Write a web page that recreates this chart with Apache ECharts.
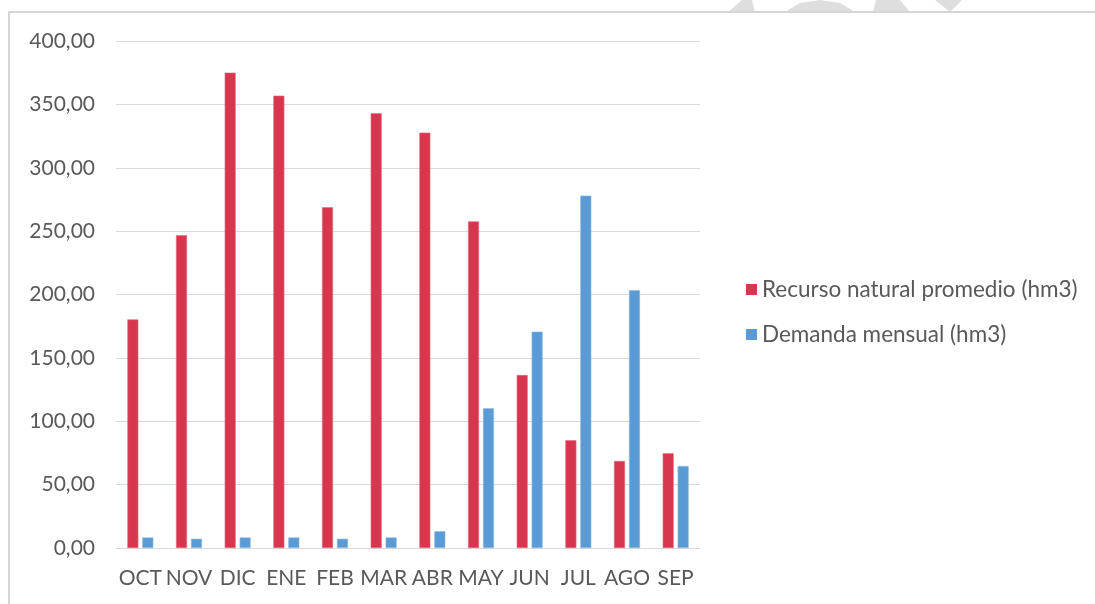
<!DOCTYPE html>
<html>
<head>
<meta charset="utf-8">
<script src="https://cdn.jsdelivr.net/npm/echarts@6/dist/echarts.min.js"></script>
<style>
  html, body { margin: 0; padding: 0; background: #ffffff; }
  #chart { width: 1095px; height: 604px; }
</style>
</head>
<body>
<div id="chart"></div>
<script>
// Meses del año hidrológico
const months = ['OCT', 'NOV', 'DIC', 'ENE', 'FEB', 'MAR', 'ABR', 'MAY', 'JUN', 'JUL', 'AGO', 'SEP'];
// Recurso natural promedio (hm3)
const recurso = [180.4, 246.7, 375.0, 356.9, 268.8, 343.0, 327.7, 257.7, 136.5, 85.0, 68.6, 74.7];
// Demanda mensual (hm3)
const demanda = [8.3, 7.3, 8.3, 8.3, 7.3, 8.3, 13.2, 110.2, 170.7, 278.0, 203.3, 64.7];
const seriesNames = ['Recurso natural promedio (hm3)', 'Demanda mensual (hm3)'];

const FONT = 'Lato, "Open Sans", sans-serif';
const TEXT = '#595959';
const GRID = '#d9d9d9';

const chart = echarts.init(document.getElementById('chart'), null, { renderer: 'canvas' });

chart.setOption({
  animation: false,
  backgroundColor: '#ffffff',
  textStyle: { fontFamily: FONT },
  graphic: [
    // trazos de la marca de agua sobre el marco
    { type: 'polygon', shape: { points: [[728, 12], [742, 0], [752, 0], [755, 12]] }, style: { fill: '#dedede' }, silent: true },
    { type: 'polygon', shape: { points: [[785, 12], [800, 3], [820, 0], [840, 3], [855, 12]] }, style: { fill: '#dedede' }, silent: true },
    { type: 'polygon', shape: { points: [[873, 12], [876, 0], [900, 0], [910, 12]] }, style: { fill: '#dedede' }, silent: true },
    { type: 'polygon', shape: { points: [[935, 0], [962, 0], [950, 12]] }, style: { fill: '#dedede' }, silent: true },
    // marco de la hoja
    { type: 'line', shape: { x1: 8, y1: 12, x2: 1095, y2: 12 }, style: { stroke: '#d6d6d6', lineWidth: 2 }, silent: true },
    { type: 'line', shape: { x1: 9, y1: 12, x2: 9, y2: 604 }, style: { stroke: '#d6d6d6', lineWidth: 2 }, silent: true }
  ],
  legend: {
    orient: 'vertical',
    left: 741,
    top: 273,
    itemWidth: 11,
    itemHeight: 11,
    itemGap: 22,
    icon: 'rect',
    data: seriesNames,
    itemStyle: { borderWidth: 0 },
    textStyle: { color: TEXT, fontSize: 22.5, fontFamily: FONT, padding: [0, 0, 0, 0] }
  },
  grid: { left: 116, right: 395, top: 41, bottom: 56, containLabel: false },
  xAxis: {
    type: 'category',
    data: months,
    axisLine: { show: true, lineStyle: { color: GRID, width: 1 } },
    axisTick: { show: false },
    axisLabel: { color: TEXT, fontSize: 21, fontFamily: FONT, margin: 20, interval: 0 }
  },
  yAxis: {
    type: 'value',
    min: 0,
    max: 400,
    interval: 50,
    axisLine: { show: false },
    axisTick: { show: false },
    splitLine: { lineStyle: { color: GRID, width: 1 } },
    axisLabel: {
      color: TEXT, fontSize: 21, fontFamily: FONT, margin: 21,
      formatter: v => v.toFixed(2).replace('.', ',')
    }
  },
  series: [
    {
      name: seriesNames[0],
      type: 'bar',
      data: recurso,
      barWidth: 11,
      barGap: '36%',
      itemStyle: { color: '#d6374f', borderColor: '#e26a7c', borderWidth: 0.6 }
    },
    {
      name: seriesNames[1],
      type: 'bar',
      data: demanda,
      barWidth: 11,
      itemStyle: { color: '#5b9bd5', borderColor: '#8ab8e3', borderWidth: 0.6 }
    }
  ]
});
</script>
</body>
</html>
